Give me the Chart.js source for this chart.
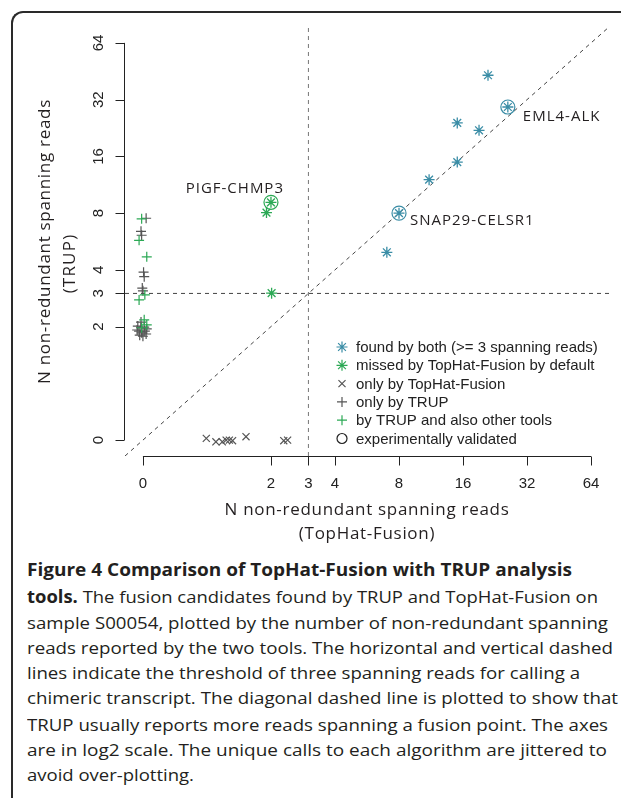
<!DOCTYPE html>
<html>
<head>
<meta charset="utf-8">
<script src="https://cdn.jsdelivr.net/npm/chart.js@4/dist/chart.umd.min.js"></script>
<style>
  body{margin:0;background:#fff;}
  #wrap{position:relative;width:621px;height:798px;overflow:hidden;background:#fff;}
  #frame{position:absolute;left:11px;top:11px;width:700px;height:900px;border-top:2px solid #2a2a2a;border-left:2px solid #2a2a2a;border-top-left-radius:12px;}
  #c{position:absolute;left:0;top:0;}
  .cap{position:absolute;left:27px;white-space:nowrap;font-family:"Open Sans",sans-serif;font-size:17px;line-height:26px;color:#231f20;transform-origin:0 50%;}
  .cap b{font-weight:700;}
</style>
</head>
<body>
<div id="wrap">
  <div id="frame"></div>
  <canvas id="c" width="621" height="545"></canvas>
  <div class="cap" style="top:557px" data-w="545"><b>Figure 4 Comparison of TopHat-Fusion with TRUP analysis</b></div>
  <div class="cap" style="top:584px" data-w="571"><b>tools.</b> The fusion candidates found by TRUP and TopHat-Fusion on</div>
  <div class="cap" style="top:610px" data-w="581">sample S00054, plotted by the number of non-redundant spanning</div>
  <div class="cap" style="top:635px" data-w="586">reads reported by the two tools. The horizontal and vertical dashed</div>
  <div class="cap" style="top:660px" data-w="553">lines indicate the threshold of three spanning reads for calling a</div>
  <div class="cap" style="top:685px" data-w="591">chimeric transcript. The diagonal dashed line is plotted to show that</div>
  <div class="cap" style="top:712px" data-w="581">TRUP usually reports more reads spanning a fusion point. The axes</div>
  <div class="cap" style="top:737px" data-w="580">are in log2 scale. The unique calls to each algorithm are jittered to</div>
  <div class="cap" style="top:762px" data-w="167">avoid over-plotting.</div>
</div>
<script>
// values are log2(non-redundant spanning reads), zero reads sit at -1, jitter as seen
const bothX = [4.39, 4.70, 3.91, 4.25, 3.91, 3.47, 3.00, 2.81];
const bothY = [5.43, 4.87, 4.59, 4.46, 3.90, 3.59, 3.00, 2.31];

const missedX = [1.00, 0.93, 1.01];
const missedY = [3.19, 3.01, 1.59];

const tophatOnlyX = [-0.01, 0.14, 0.24, 0.30, 0.35, 0.40, 0.61, 1.20, 1.26];
const tophatOnlyY = [-0.97, -1.03, -1.03, -1.00, -1.00, -1.01, -0.94, -1.01, -1.00];

const trupOnlyX = [-0.95, -1.03, -1.02, -0.99, -0.98, -1.01, -1.00,
                   -1.08, -1.03, -0.98, -0.94, -1.06, -1.02, -0.97, -1.05, -1.00, -0.95, -1.03, -1.09];
const trupOnlyY = [2.91, 2.68, 2.61, 1.96, 1.88, 1.68, 1.63,
                   1.01, 0.98, 0.99, 0.96, 0.92, 0.89, 0.92, 0.85, 0.83, 0.87, 1.08, 0.94];

const trupOtherX = [-1.02, -1.06, -0.94, -0.97, -1.06, -0.98, -0.94, -1.02];
const trupOtherY = [2.90, 2.52, 2.23, 1.56, 1.47, 1.12, 1.03, 0.98];

const validatedNames = ['EML4-ALK', 'SNAP29-CELSR1', 'PIGF-CHMP3'];
const validatedX = [4.70, 3.00, 1.00];
const validatedY = [4.87, 3.00, 3.19];
const validatedGroup = ['both', 'both', 'missed'];

const tickReads = [0, 2, 3, 4, 8, 16, 32, 64];
const threshold = 3;
const axisMin = -1.28, axisMax = 6.28;

const legendLabels = [
  'found by both (>= 3 spanning reads)',
  'missed by TopHat-Fusion by default',
  'only by TopHat-Fusion',
  'only by TRUP',
  'by TRUP and also other tools',
  'experimentally validated'
];

const BLUE = '#3a8da6', GREEN = '#2ca955', GREY = '#555555';
const lg = v => v === 0 ? -1 : Math.log2(v);
const pts = (xs, ys) => xs.map((x, i) => ({x, y: ys[i]}));

const legendStyles = [
  {style:'star', color:BLUE, r:5.5},
  {style:'star', color:GREEN, r:5.5},
  {style:'crossRot', color:GREY, r:5},
  {style:'cross', color:GREY, r:5},
  {style:'cross', color:GREEN, r:5},
  {style:'circle', color:'#222', r:5}
];

const rAxes = {
  id:'rAxes',
  afterDraw(chart){
    const {ctx, chartArea:a, scales:{x, y}} = chart;
    ctx.save();
    ctx.strokeStyle = '#222'; ctx.lineWidth = 1; ctx.fillStyle = '#222';
    ctx.font = '15px "Liberation Sans", Arial, sans-serif';
    const tp = tickReads.map(lg);
    // x axis
    const yb = Math.round(a.bottom) + 0.5;
    ctx.beginPath();
    ctx.moveTo(x.getPixelForValue(tp[0]), yb);
    ctx.lineTo(x.getPixelForValue(tp[tp.length-1]), yb);
    tp.forEach(v => { const px = Math.round(x.getPixelForValue(v)) + 0.5; ctx.moveTo(px, yb); ctx.lineTo(px, yb + 9); });
    ctx.stroke();
    ctx.textAlign = 'center'; ctx.textBaseline = 'middle';
    tp.forEach((v, i) => ctx.fillText(String(tickReads[i]), x.getPixelForValue(v), a.bottom + 28));
    // y axis
    const xl = Math.round(a.left) - 0.5;
    ctx.beginPath();
    ctx.moveTo(xl, y.getPixelForValue(tp[0]));
    ctx.lineTo(xl, y.getPixelForValue(tp[tp.length-1]));
    tp.forEach(v => { const py = Math.round(y.getPixelForValue(v)) + 0.5; ctx.moveTo(xl, py); ctx.lineTo(xl - 9, py); });
    ctx.stroke();
    tp.forEach((v, i) => {
      ctx.save();
      ctx.translate(a.left - 26, y.getPixelForValue(v));
      ctx.rotate(-Math.PI/2);
      ctx.fillText(String(tickReads[i]), 0, 0);
      ctx.restore();
    });
    // axis titles
    ctx.font = '17px "Open Sans", sans-serif';
    ctx.fillStyle = '#231f20';
    ctx.letterSpacing = '0.7px';
    const cx = (a.left + a.right) / 2, cy = (a.top + a.bottom) / 2;
    ctx.fillText('N non-redundant spanning reads', cx, a.bottom + 54);
    ctx.fillText('(TopHat-Fusion)', cx, a.bottom + 78);
    ctx.save();
    ctx.translate(a.left - 80, cy); ctx.rotate(-Math.PI/2);
    ctx.fillText('N non-redundant spanning reads', 0, 0);
    ctx.restore();
    ctx.save();
    ctx.letterSpacing = '1.2px';
    ctx.translate(a.left - 55, cy + 22); ctx.rotate(-Math.PI/2);
    ctx.fillText('(TRUP)', 0, 0);
    ctx.restore();
    // gene labels
    const offs = [{dx:15, dy:10, align:'left'}, {dx:11, dy:8, align:'left'}, {dx:13, dy:-14, align:'right'}];
    ctx.font = '15px "Open Sans", sans-serif';
    ctx.letterSpacing = '1px';
    validatedNames.forEach((n, i) => {
      const o = offs[i];
      ctx.textAlign = o.align;
      ctx.fillText(n, x.getPixelForValue(validatedX[i]) + o.dx, y.getPixelForValue(validatedY[i]) + o.dy);
    });
    ctx.letterSpacing = '0px';
    // legend
    ctx.font = '15px "Liberation Sans", Arial, sans-serif';
    ctx.textAlign = 'left';
    legendLabels.forEach((t, i) => {
      const ly = a.top + 320 + i * 18.3;
      const s = legendStyles[i];
      ctx.strokeStyle = s.color; ctx.lineWidth = 1.2;
      ctx.fillStyle = 'rgba(0,0,0,0)';
      Chart.helpers.drawPoint(ctx, {pointStyle:s.style, radius:s.r, borderWidth:1.2}, a.left + 217, ly);
      ctx.fillStyle = '#222';
      ctx.fillText(t, a.left + 231, ly + 1);
    });
    ctx.restore();
  }
};

const refLine = (data, color) => ({type:'line', data, showLine:true, borderColor:color, borderWidth:1,
  borderDash:[4,4], pointRadius:0, fill:false});

new Chart(document.getElementById('c'), {
  type:'scatter',
  data:{
    datasets:[
      {data:pts(validatedX, validatedY), pointStyle:'circle', pointRadius:7, borderWidth:1.2,
        pointBorderColor:validatedGroup.map(g => g === 'both' ? BLUE : GREEN), backgroundColor:'rgba(0,0,0,0)'},
      {data:pts(bothX, bothY), pointStyle:'star', pointRadius:5.5, borderWidth:1.3, borderColor:BLUE},
      {data:pts(missedX, missedY), pointStyle:'star', pointRadius:5.5, borderWidth:1.3, borderColor:GREEN},
      {data:pts(trupOtherX, trupOtherY), pointStyle:'cross', pointRadius:5, borderWidth:1.2, borderColor:GREEN},
      {data:pts(trupOnlyX, trupOnlyY), pointStyle:'cross', pointRadius:5, borderWidth:1.2, borderColor:GREY},
      {data:pts(tophatOnlyX, tophatOnlyY), pointStyle:'crossRot', pointRadius:5, borderWidth:1.2, borderColor:GREY},
      refLine([{x:axisMin, y:axisMin}, {x:axisMax, y:axisMax}], '#444'),
      refLine([{x:axisMin, y:lg(threshold)}, {x:axisMax, y:lg(threshold)}], '#444'),
      refLine([{x:lg(threshold), y:axisMin}, {x:lg(threshold), y:axisMax}], '#777')
    ]
  },
  options:{
    responsive:false, animation:false, devicePixelRatio:1,
    layout:{padding:{left:125, right:12, top:27, bottom:89}},
    plugins:{legend:{display:false}, tooltip:{enabled:false}},
    scales:{
      x:{type:'linear', min:axisMin, max:axisMax, display:false},
      y:{type:'linear', min:axisMin, max:axisMax, display:false}
    }
  },
  plugins:[rAxes]
});

// fit each caption line to the width it has in the figure
document.querySelectorAll('.cap').forEach(el => {
  const w = el.getBoundingClientRect().width;
  el.style.transform = 'scaleX(' + (Number(el.dataset.w) / w) + ')';
});
</script>
</body>
</html>
